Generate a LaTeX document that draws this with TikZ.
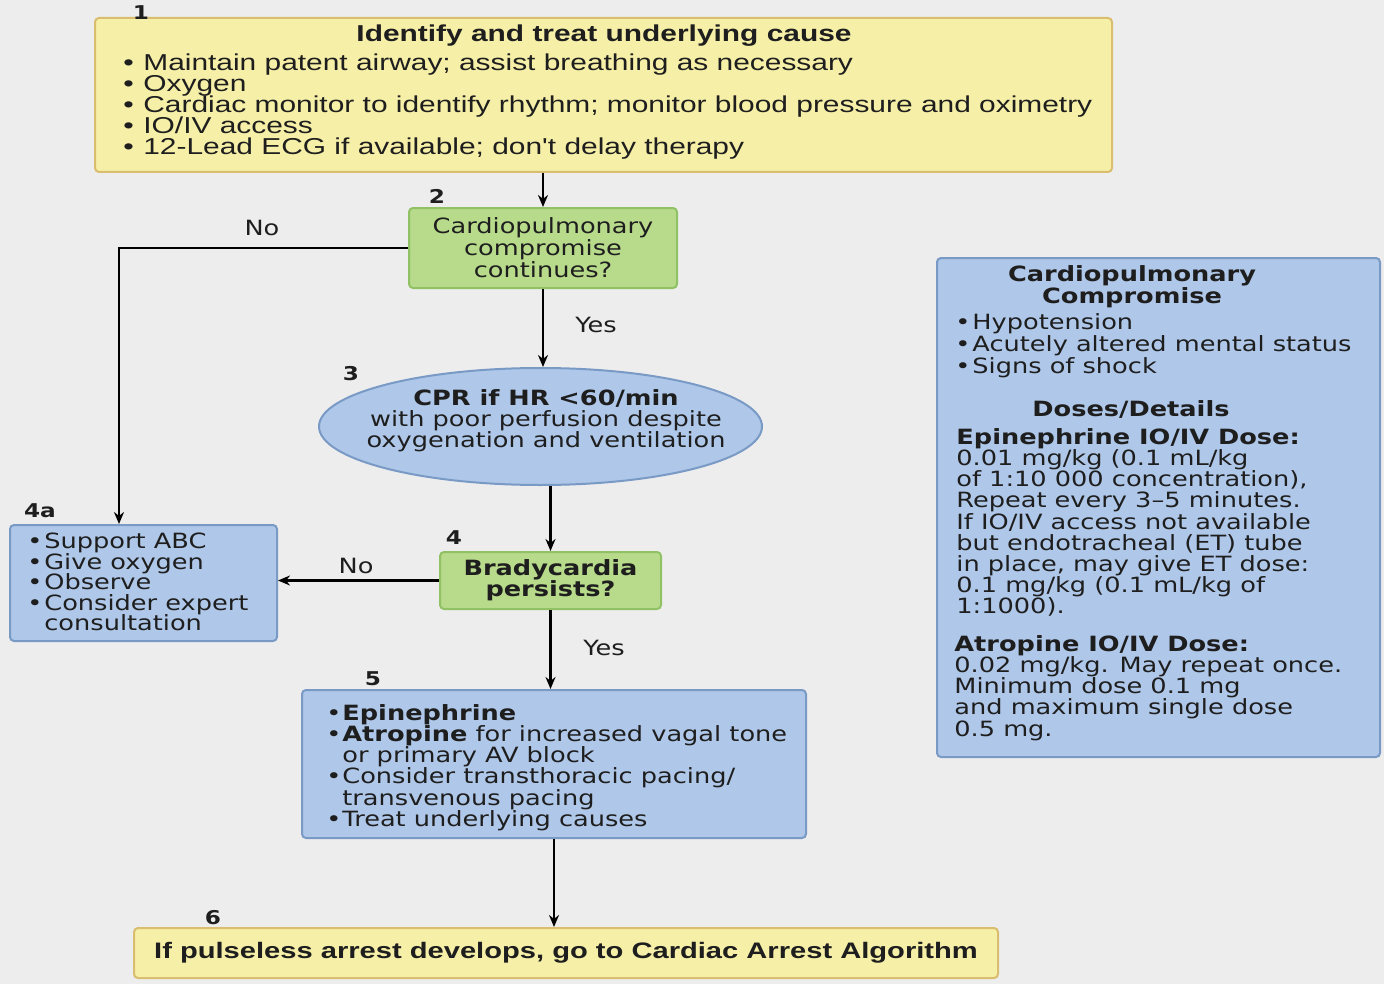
\documentclass[tikz,border=0pt]{standalone}
\usepackage{fontspec}
\usetikzlibrary{arrows.meta,shapes.geometric}
\newfontfamily\yfont[FakeStretch=1.3]{Liberation Sans}
\newfontfamily\dfont[FakeStretch=1.22]{DejaVu Sans}
\definecolor{bgc}{HTML}{EDEDED}
\definecolor{yfill}{HTML}{F6EFA8}
\definecolor{ydraw}{HTML}{D8BE6E}
\definecolor{gfill}{HTML}{B7DA8B}
\definecolor{gdraw}{HTML}{90C265}
\definecolor{bfill}{HTML}{AFC7E8}
\definecolor{bdraw}{HTML}{7A9AC6}
\definecolor{txt}{HTML}{1E1E1E}
\newcommand{\bl}[2][8.5pt]{\makebox[#1][l]{\textbullet}#2}
\newcommand{\ind}[1][8.5pt]{\hspace*{#1}}
\setlength{\lineskiplimit}{-10pt}
\tikzset{
  ybox/.style={draw=ydraw, fill=yfill, line width=1pt, rounded corners=2pt, inner sep=2pt, text=txt},
  gbox/.style={draw=gdraw, fill=gfill, line width=1pt, rounded corners=2pt, inner sep=2pt, text=txt, align=center,
    font=\dfont\fontsize{10.5}{11}\selectfont},
  bbox/.style={draw=bdraw, fill=bfill, line width=1pt, rounded corners=2pt, inner sep=2pt, text=txt},
  ell/.style={ellipse, draw=bdraw, fill=bfill, line width=1pt, inner sep=0pt},
  dtxt/.style={inner sep=0pt, text=txt, font=\dfont\fontsize{10.5}{10.6}\selectfont, align=left},
  ytxt/.style={inner sep=0pt, text=txt, font=\yfont\fontsize{11.5}{10.5}\selectfont, align=left},
  num/.style={inner sep=0pt, text=txt, font=\dfont\bfseries\fontsize{9.5}{10}\selectfont},
  lab/.style={inner sep=0pt, text=txt, font=\dfont\fontsize{10.5}{11}\selectfont},
  arr/.style={draw=black, line width=1.1pt, -{Stealth[length=6pt,width=5pt]}},
}
\begin{document}
\begin{tikzpicture}[x=0.5pt,y=-0.5pt]
\fill[bgc] (0,0) rectangle (1384,984);
\useasboundingbox (0,0) rectangle (1384,984);

% boxes
\node[ybox, minimum width=508.5pt, minimum height=77pt] (n1) at (603.5,95) {};
\node[gbox, minimum width=134pt, minimum height=40pt] (n2) at (543,248)
  {Cardiopulmonary\\compromise\\continues?};
\node[ell, minimum width=221.5pt, minimum height=58.5pt] (n3) at (540.5,426.5) {};
\node[gbox, minimum width=110.5pt, minimum height=28.5pt, font=\dfont\bfseries\fontsize{10.5}{10.5}\selectfont] (n4) at (550.5,580.5)
  {Bradycardia\\persists?};
\node[bbox, minimum width=133.5pt, minimum height=58pt] (n4a) at (143.5,583) {};
\node[bbox, minimum width=252pt, minimum height=74pt] (n5) at (554,764) {};
\node[ybox, minimum width=432pt, minimum height=25pt, font=\yfont\bfseries\fontsize{11.2}{11}\selectfont] (n6) at (566,953)
  {If pulseless arrest develops, go to Cardiac Arrest Algorithm};
\node[bbox, minimum width=221.5pt, minimum height=249.5pt] (nr) at (1158.5,507.5) {};

% box 1 text
\node[ytxt, font=\yfont\bfseries\fontsize{11.5}{11}\selectfont, anchor=base] (t1h) at (604,42) {Identify and treat underlying cause};
\node[ytxt, anchor=north west] (t1l) at (123,53) {%
\bl[10pt]{Maintain patent airway; assist breathing as necessary}\\
\bl[10pt]{Oxygen}\\
\bl[10pt]{Cardiac monitor to identify rhythm; monitor blood pressure and oximetry}\\
\bl[10pt]{IO/IV access}\\
\bl[10pt]{12-Lead ECG if available; don't delay therapy}};

% ellipse text
\node[dtxt, align=center, font=\dfont\fontsize{10.5}{10.6}\selectfont] (t3) at (546,421)
  {\textbf{CPR if HR <60/min}\\with poor perfusion despite\\oxygenation and ventilation};

% 4a text
\node[dtxt, anchor=north west, font=\dfont\fontsize{10.5}{10.2}\selectfont] (t4a) at (27,533) {%
\bl[8.5pt]{Support ABC}\\
\bl[8.5pt]{Give oxygen}\\
\bl[8.5pt]{Observe}\\
\bl[8.5pt]{Consider expert}\\
\ind[8.5pt]consultation};

% box 5 text
\node[dtxt, anchor=north west] (t5) at (326,704) {%
\bl[8pt]{\textbf{Epinephrine}}\\
\bl[8pt]{\textbf{Atropine} for increased vagal tone}\\
\ind[8pt]or primary AV block\\
\bl[8pt]{Consider transthoracic pacing/}\\
\ind[8pt]transvenous pacing\\
\bl[8pt]{Treat underlying causes}};

% right box text
\node[dtxt, align=center, font=\dfont\bfseries\fontsize{10.5}{11}\selectfont] (tr1) at (1132,287) {Cardiopulmonary\\Compromise};
\node[dtxt, anchor=north west, font=\dfont\fontsize{10.5}{11}\selectfont] (tr2) at (955,313) {%
\bl{Hypotension}\\
\bl{Acutely altered mental status}\\
\bl{Signs of shock}};
\node[dtxt, font=\dfont\bfseries\fontsize{10.5}{11}\selectfont, anchor=base] (tr3) at (1131,416) {Doses/Details};
\node[dtxt, anchor=north west] (tr4) at (956,428) {%
\textbf{Epinephrine IO/IV Dose:}\\
0.01 mg/kg (0.1 mL/kg\\
of 1:10 000 concentration),\\
Repeat every 3–5 minutes.\\
If IO/IV access not available\\
but endotracheal (ET) tube\\
in place, may give ET dose:\\
0.1 mg/kg (0.1 mL/kg of\\
1:1000).};
\node[dtxt, anchor=north west] (tr5) at (954,635) {%
\textbf{Atropine IO/IV Dose:}\\
0.02 mg/kg. May repeat once.\\
Minimum dose 0.1 mg\\
and maximum single dose\\
0.5 mg.};

% numbers
\node[num] (l1) at (141,13) {1};
\node[num] (l2) at (437,196) {2};
\node[num] (l3) at (351,374) {3};
\node[num] (l4) at (454,538) {4};
\node[num] (l4a) at (40,511) {4a};
\node[num] (l5) at (373,679) {5};
\node[num] (l6) at (213,918) {6};

% labels
\node[lab] (no1) at (262,228) {No};
\node[lab] (no2) at (356,566) {No};
\node[lab] (yes1) at (596,325) {Yes};
\node[lab] (yes2) at (604,648) {Yes};

% connectors
\draw[arr] (n2.north |- n1.south) -- (n2.north);
\draw[arr] (n2.south) -- (n2.south |- n3.north);
\draw[arr] (n4.north |- n3.south) -- (n4.north);
\draw[arr] (n4.west) -- (n4.west -| n4a.east);
\draw[arr] (n4.south) -- (n4.south |- n5.north);
\draw[arr] (n5.south) -- (n5.south |- n6.north);
\draw[arr] (n2.west) -| ([xshift=55pt]n4a.north west);
\end{tikzpicture}
\end{document}
